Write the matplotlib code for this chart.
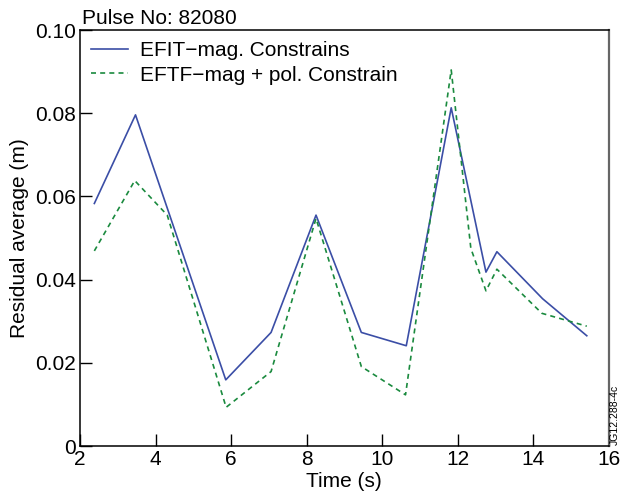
import matplotlib
matplotlib.use("Agg")
import matplotlib.pyplot as plt
from matplotlib.ticker import FuncFormatter

plt.rcParams['font.family'] = ['Liberation Sans', 'DejaVu Sans']

# Data
t_efit = [2.38, 3.47, 5.86, 7.06, 8.25, 9.45, 10.64, 11.83, 12.75, 13.04, 14.25, 15.42]
r_efit = [0.0583, 0.0796, 0.0159, 0.0273, 0.0555, 0.0273, 0.0241, 0.0813, 0.0418, 0.0467, 0.0354, 0.0265]

t_pol = [2.38, 3.45, 4.31, 5.87, 7.06, 8.25, 9.45, 10.62, 11.83, 12.35, 12.75, 13.04, 14.23, 15.42]
r_pol = [0.0469, 0.0638, 0.0555, 0.0093, 0.0179, 0.0547, 0.0191, 0.0123, 0.0904, 0.0475, 0.0373, 0.0425, 0.0319, 0.0288]

label_efit = "EFIT\u2212mag. Constrains"
label_pol = "EFTF\u2212mag + pol. Constrain"
xticks = [2, 4, 6, 8, 10, 12, 14, 16]
yticks = [0, 0.02, 0.04, 0.06, 0.08, 0.10]

fig = plt.figure(figsize=(6.22, 5.00), dpi=100)
ax = fig.add_axes([0.1286, 0.108, 0.850, 0.832])

ax.plot(t_efit, r_efit, color='#3b4ea6', lw=1.2, label=label_efit)
ax.plot(t_pol, r_pol, color='#1a8a3e', lw=1.2, ls=(0, (3, 2.5)), label=label_pol)

ax.set_xlim(2, 16)
ax.set_ylim(0, 0.10)
ax.set_xticks(xticks)
ax.set_yticks(yticks)
ax.yaxis.set_major_formatter(FuncFormatter(lambda v, p: "0" if abs(v) < 1e-12 else f"{v:.2f}"))
ax.tick_params(direction='in', length=8.5, width=1.0, labelsize=15, pad=3,
               top=False, right=False)
for s in ['left', 'bottom', 'top']:
    ax.spines[s].set_color('black')
    ax.spines[s].set_linewidth(1.1)
ax.spines['right'].set_color('#666666')
ax.spines['right'].set_linewidth(1.6)

ax.set_xlabel("Time (s)", fontsize=15, labelpad=2)
ax.set_ylabel("Residual average (m)", fontsize=15, labelpad=4)

ax.legend(loc='upper left', frameon=False, fontsize=15, handlelength=1.75,
          handletextpad=0.6, borderaxespad=0.15, labelspacing=0.25,
          bbox_to_anchor=(0.0, 1.0))

fig.text(0.132, 0.944, "Pulse No: 82080", fontsize=15, ha='left', va='bottom')
fig.text(0.988, 0.11, "JG12.288-4c", fontsize=7.5, rotation=90, ha='center', va='bottom')

fig.savefig("out.png", dpi=100)
